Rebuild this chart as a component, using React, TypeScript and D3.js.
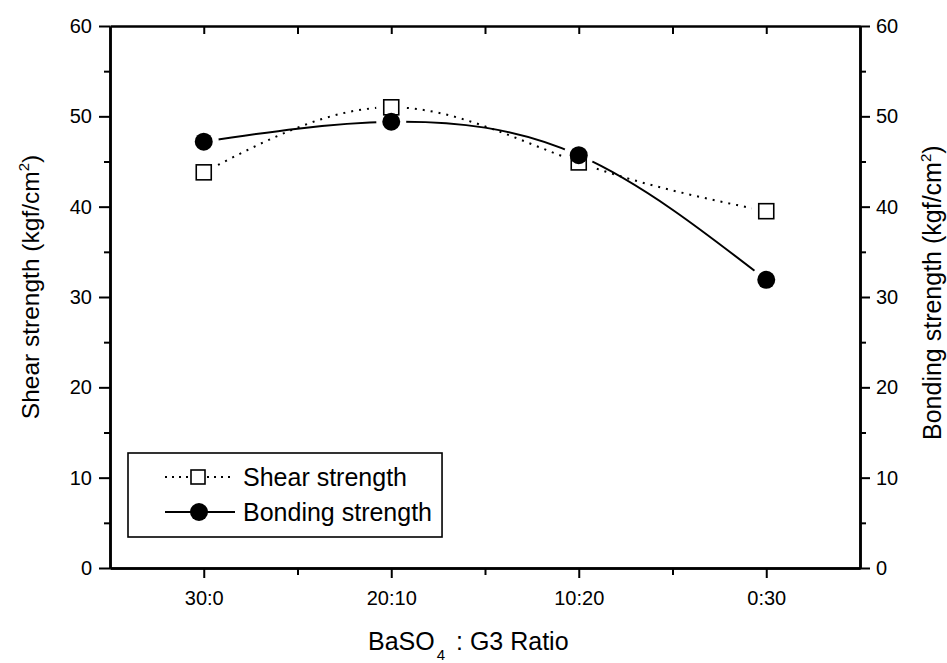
import React, { useRef, useEffect } from "react";
import * as d3 from "d3";

// values
const ratios = ["30:0", "20:10", "10:20", "0:30"];
const shearStrength = [43.8, 51.0, 44.9, 39.5];
const bondingStrength = [47.2, 49.4, 45.7, 31.9];
const yTicks = [0, 10, 20, 30, 40, 50, 60];
const yMinor = [5, 15, 25, 35, 45, 55];
const xMinor = [1.5, 2.5, 3.5];

const W = 947;
const H = 663;
const left = 110;
const right = 860;
const top = 26;
const bottom = 568;
const FONT = "'Liberation Sans', Arial, Helvetica, sans-serif";

const App = () => {
  const svgRef = useRef(null);

  useEffect(() => {
    const svg = d3.select(svgRef.current);
    svg.selectAll("*").remove();

    const x = d3.scaleLinear().domain([0.5, 4.5]).range([left, right]);
    const y = d3.scaleLinear().domain([0, 60]).range([bottom, top]);

    const styleAxis = (g) => {
      g.select(".domain").attr("stroke", "#000").attr("stroke-width", 2.5);
      g.selectAll(".tick line").attr("stroke", "#000").attr("stroke-width", 2);
      g.selectAll(".tick text")
        .attr("fill", "#000")
        .style("font-family", FONT)
        .style("font-size", "20px");
    };

    // left axis (major + minor, outward)
    svg.append("g")
      .attr("transform", `translate(${left},0)`)
      .call(d3.axisLeft(y).tickValues(yTicks).tickSize(11).tickSizeOuter(0).tickPadding(7))
      .call(styleAxis);
    svg.append("g")
      .attr("transform", `translate(${left},0)`)
      .call(d3.axisLeft(y).tickValues(yMinor).tickSize(6).tickSizeOuter(0).tickFormat(() => ""))
      .call(styleAxis);

    // right axis
    svg.append("g")
      .attr("transform", `translate(${right},0)`)
      .call(d3.axisRight(y).tickValues(yTicks).tickSize(10).tickSizeOuter(0).tickPadding(6))
      .call(styleAxis);
    svg.append("g")
      .attr("transform", `translate(${right},0)`)
      .call(d3.axisRight(y).tickValues(yMinor).tickSize(6).tickSizeOuter(0).tickFormat(() => ""))
      .call(styleAxis);

    // bottom axis
    svg.append("g")
      .attr("transform", `translate(0,${bottom})`)
      .call(
        d3.axisBottom(x)
          .tickValues([1, 2, 3, 4])
          .tickFormat((d) => ratios[d - 1])
          .tickSize(10)
          .tickSizeOuter(0)
          .tickPadding(13)
      )
      .call(styleAxis);
    svg.append("g")
      .attr("transform", `translate(0,${bottom})`)
      .call(d3.axisBottom(x).tickValues(xMinor).tickSize(7).tickSizeOuter(0).tickFormat(() => ""))
      .call(styleAxis);

    // top axis, ticks pointing in
    svg.append("g")
      .attr("transform", `translate(0,${top})`)
      .call(
        d3.axisTop(x)
          .tickValues([1, 1.5, 2, 2.5, 3, 3.5, 4])
          .tickSize(-8)
          .tickSizeOuter(0)
          .tickFormat(() => "")
      )
      .call(styleAxis);

    // masks so the lines stop short of the symbols
    const defs = svg.append("defs");
    const series = [
      { key: "shear", values: shearStrength, dash: "2 6" },
      { key: "bond", values: bondingStrength, dash: null },
    ];
    series.forEach((s) => {
      const m = defs.append("mask").attr("id", "mask-" + s.key).attr("maskUnits", "userSpaceOnUse")
        .attr("x", 0).attr("y", 0).attr("width", W).attr("height", H);
      m.append("rect").attr("width", W).attr("height", H).attr("fill", "#fff");
      m.selectAll("circle")
        .data(s.values)
        .join("circle")
        .attr("cx", (d, i) => x(i + 1))
        .attr("cy", (d) => y(d))
        .attr("r", 15)
        .attr("fill", "#000");
    });

    const lineGen = d3.line()
      .x((d, i) => x(i + 1))
      .y((d) => y(d))
      .curve(d3.curveNatural);

    series.forEach((s) => {
      svg.append("path")
        .attr("d", lineGen(s.values))
        .attr("fill", "none")
        .attr("stroke", "#000")
        .attr("stroke-width", 2)
        .attr("stroke-dasharray", s.dash)
        .attr("mask", `url(#mask-${s.key})`);
    });

    // symbols
    svg.append("g")
      .selectAll("rect")
      .data(shearStrength)
      .join("rect")
      .attr("x", (d, i) => x(i + 1) - 7.5)
      .attr("y", (d) => y(d) - 7.5)
      .attr("width", 15)
      .attr("height", 15)
      .attr("fill", "#fff")
      .attr("stroke", "#000")
      .attr("stroke-width", 1.6);

    svg.append("g")
      .selectAll("circle")
      .data(bondingStrength)
      .join("circle")
      .attr("cx", (d, i) => x(i + 1))
      .attr("cy", (d) => y(d))
      .attr("r", 9)
      .attr("fill", "#000");

    // legend
    const lg = svg.append("g");
    const box = lg.append("rect")
      .attr("x", 128).attr("y", 453).attr("height", 84)
      .attr("fill", "#fff").attr("stroke", "#000").attr("stroke-width", 1.6);
    lg.append("line").attr("x1", 165).attr("x2", 235).attr("y1", 477).attr("y2", 477)
      .attr("stroke", "#000").attr("stroke-width", 2).attr("stroke-dasharray", "2 5");
    lg.append("rect").attr("x", 191).attr("y", 470).attr("width", 14).attr("height", 14)
      .attr("fill", "#fff").attr("stroke", "#000").attr("stroke-width", 1.6);
    lg.append("line").attr("x1", 165).attr("x2", 235).attr("y1", 512).attr("y2", 512)
      .attr("stroke", "#000").attr("stroke-width", 2);
    lg.append("circle").attr("cx", 199).attr("cy", 512).attr("r", 9).attr("fill", "#000");
    const labels = lg.selectAll("text.lab")
      .data(["Shear strength", "Bonding strength"])
      .join("text")
      .attr("class", "lab")
      .attr("x", 243)
      .attr("y", (d, i) => 486 + i * 35)
      .text((d) => d)
      .style("font-family", FONT)
      .style("font-size", "25px");
    let maxW = 0;
    labels.each(function () {
      maxW = Math.max(maxW, this.getComputedTextLength());
    });
    box.attr("width", 243 + maxW + 10 - 128);

    // axis titles
    const xt = svg.append("text").attr("x", 368).attr("y", 650)
      .style("font-family", FONT).style("font-size", "25px");
    xt.append("tspan").text("BaSO");
    xt.append("tspan").attr("dx", 2).attr("dy", 10).style("font-size", "15px").text("4");
    xt.append("tspan").attr("dx", 4).attr("dy", -10).text(" :  G3 Ratio");

    const ly = svg.append("text")
      .attr("transform", `translate(39,287) rotate(-90)`)
      .attr("text-anchor", "middle")
      .style("font-family", FONT).style("font-size", "24.5px");
    ly.append("tspan").text("Shear strength (kgf/cm");
    ly.append("tspan").attr("dy", -10).style("font-size", "15px").text("2");
    ly.append("tspan").attr("dy", 10).text(")");

    const ry = svg.append("text")
      .attr("transform", `translate(941,440) rotate(-90)`)
      .attr("text-anchor", "start")
      .style("font-family", FONT).style("font-size", "25px");
    ry.append("tspan").text("Bonding strength (kgf/cm");
    ry.append("tspan").attr("dy", -10).style("font-size", "15px").text("2");
    ry.append("tspan").attr("dy", 10).text(")");
  }, []);

  return (
    <svg
      ref={svgRef}
      width={W}
      height={H}
      style={{ position: "absolute", left: 0, top: 0, background: "#fff" }}
    />
  );
};

export default App;
